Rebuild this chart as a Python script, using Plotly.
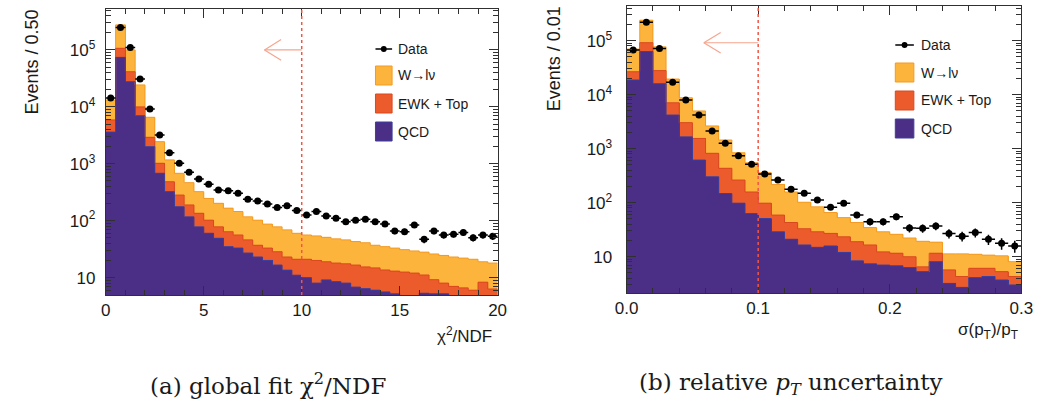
import numpy as np
import plotly.graph_objects as go

W, H = 1048, 400

# ---------------- panel (a): global fit chi2/NDF, 0.5 wide bins ----------------
chi2_lo, chi2_hi, chi2_bin = 0.0, 20.0, 0.5
chi2_qcd = [3600, 74000, 27700, 7000, 2000, 680, 324, 176, 117, 78,
            60, 49, 35, 33, 27, 23, 20, 16.6, 13.5, 11,
            10, 8, 9.1, 8.5, 8, 6.8, 6.4, 6, 5.6, 5.2,
            4.6, 4.7, 5.3, 5.2, 5.2, 4.8, 4.6, 4.5, 4.6, 4.5]
chi2_ewk_top = [2300, 33000, 13800, 3000, 920, 340, 160, 106, 72, 57,
                42, 29, 29, 23, 19, 14, 13, 11.9, 9.5, 10,
                11, 12, 9.9, 9.5, 9.5, 9.8, 9, 8.8, 8, 7.8,
                7.9, 7.3, 5.8, 4.0, 2.8, 2.2, 2.0, 1.5, 3.7, 1.8]
chi2_wlnu = [7300, 169000, 58500, 14300, 3640, 1430, 686, 398, 277, 189,
             144, 124, 102, 89, 71, 65, 54, 49.5, 46, 39,
             35, 34, 32, 30, 28.5, 26.4, 25.6, 22.2, 21.4, 20,
             18.5, 17.4, 16.9, 16.8, 16.5, 16, 15.4, 15, 10.7, 11.7]
chi2_data = [14300, 247000, 110000, 31000, 9200, 3200, 1570, 1020, 707, 540,
             436, 347, 337, 302, 238, 222, 196, 170, 183, 151,
             126, 145, 121, 110, 96, 102, 106, 96, 87, 66,
             64, 84, 47, 66, 56, 58, 62, 50, 56, 53]
chi2_cut = 10.0
chi2_xticks = [0, 5, 10, 15, 20]

# ---------------- panel (b): relative pT uncertainty, 0.01 wide bins ----------------
ptres_lo, ptres_hi, ptres_bin = 0.0, 0.3, 0.01
ptres_qcd = [18700, 63000, 16000, 4200, 1660, 616, 303, 148, 98, 63,
             51, 29, 21, 16.5, 14.9, 15.8, 12, 8.4, 7.4, 7.0,
             6.8, 6.3, 5.3, 8.1, 3.2, 2.7, 4.1, 4.3, 3.7, 3.0]
ptres_ewk_top = [8000, 29000, 12000, 2900, 1380, 934, 519, 286, 165, 95,
                 47, 30, 22, 16.5, 14.1, 11.2, 11.4, 10.6, 9.1, 5.3,
                 4.8, 3.7, 1.2, 3.5, 2.5, 1.6, 2.0, 1.8, 1.6, 1.3]
ptres_wlnu = [43300, 148000, 49000, 12400, 5760, 3450, 1818, 1016, 580, 392,
              262, 159, 115, 69, 55, 38.8, 29.6, 24, 18.2, 16.7,
              14.4, 12.2, 12.8, 7.0, 5.6, 7.0, 5.0, 4.6, 5.1, 3.8]
ptres_data = [67000, 219000, 72000, 17000, 7960, 4200, 2140, 1260, 742, 515,
              340, 263, 178, 149, 112, 82, 98, 59, 44.5, 44.5,
              55, 34, 33.6, 37, 27, 24, 28, 21, 17.7, 15.8]
ptres_cut = 0.1
ptres_xticks = [0.0, 0.1, 0.2, 0.3]
ptres_xticktext = ["0.0", "0.1", "0.2", "0.3"]

ytick_vals = [10, 100, 1000, 10000, 100000]
ytick_text = ["10", "10<sup>2</sup>", "10<sup>3</sup>", "10<sup>4</sup>", "10<sup>5</sup>"]

legend_labels = ["Data", "W\u2192l\u03bd", "EWK + Top", "QCD"]

# colours
COL_W, EDGE_W = "#FDB43C", "#F39A22"
COL_EWK, EDGE_EWK = "#EC5B2B", "#D9491F"
COL_QCD, EDGE_QCD = "#4B2E86", "#3B3F9E"
CUT_COLOR = "#F05545"
ARROW_COLOR = "#F6A58E"
INK = "#1a1a1a"
FRAME = "#303030"
SANS = "Liberation Sans, Arial, sans-serif"
SERIF = "DejaVu Serif, serif"


def px(x):
    return x / W


def py(y):
    return 1 - y / H


fig = go.Figure()


def add_panel(xa, ya, lo, hi, binw, qcd, ewk, wl, data):
    nb = len(qcd)
    edges = np.linspace(lo, hi, nb + 1)
    centers = 0.5 * (edges[:-1] + edges[1:])
    c_qcd = np.asarray(qcd, float)
    c_ewk = c_qcd + np.asarray(ewk, float)
    c_all = c_ewk + np.asarray(wl, float)
    for vals, fill in ((c_all, COL_W), (c_ewk, COL_EWK), (c_qcd, COL_QCD)):
        fig.add_trace(go.Bar(x=centers, y=vals, width=binw, xaxis=xa, yaxis=ya,
                             marker=dict(color=fill, line=dict(width=0)),
                             hoverinfo="skip", showlegend=False))
    for vals, edge in ((c_all, EDGE_W), (c_ewk, EDGE_EWK), (c_qcd, EDGE_QCD)):
        fig.add_trace(go.Scatter(x=edges, y=np.append(vals, vals[-1]), xaxis=xa, yaxis=ya,
                                 mode="lines", line=dict(color=edge, width=1, shape="hv"),
                                 hoverinfo="skip", showlegend=False))
    fig.add_trace(go.Scatter(x=centers, y=data, xaxis=xa, yaxis=ya, mode="markers",
                             marker=dict(symbol="circle", size=7, color="black"),
                             error_x=dict(type="constant", value=binw / 2, thickness=1.5,
                                          width=0, color="black"),
                             error_y=dict(type="sqrt", thickness=1.5, width=0, color="black"),
                             showlegend=False))


add_panel("x", "y", chi2_lo, chi2_hi, chi2_bin,
          chi2_qcd, chi2_ewk_top, chi2_wlnu, chi2_data)
add_panel("x2", "y2", ptres_lo, ptres_hi, ptres_bin,
          ptres_qcd, ptres_ewk_top, ptres_wlnu, ptres_data)


def log_minor_ticks(lo_dec, hi_dec):
    vals = []
    for d in range(lo_dec, hi_dec + 1):
        for m in range(2, 10):
            vals.append(m * 10.0 ** d)
    return vals


axis_common = dict(showline=True, linecolor=FRAME, linewidth=1, mirror="allticks",
                   ticks="inside", tickcolor=FRAME, ticklen=9, tickwidth=1,
                   showgrid=False, zeroline=False,
                   tickfont=dict(family=SANS, size=17, color=INK))

fig.update_layout(
    width=W, height=H, margin=dict(l=0, r=0, t=0, b=0),
    paper_bgcolor="white", plot_bgcolor="white",
    barmode="overlay", bargap=0, showlegend=False,
    font=dict(family=SANS, color=INK),
    xaxis=dict(axis_common, domain=[px(96), px(497)], range=[chi2_lo, chi2_hi],
               tickmode="array", tickvals=chi2_xticks, anchor="y",
               minor=dict(ticks="inside", ticklen=5, tickcolor=FRAME,
                          tickmode="linear", tick0=0, dtick=1, showgrid=False)),
    yaxis=dict(axis_common, type="log", domain=[py(295), py(9)], range=[0.694, 5.72],
               tickmode="array", tickvals=ytick_vals, ticktext=ytick_text, anchor="x",
               ticklabelstandoff=6,
               minor=dict(ticks="inside", ticklen=5, tickcolor=FRAME,
                          tickmode="array", tickvals=log_minor_ticks(0, 5), showgrid=False)),
    xaxis2=dict(axis_common, domain=[px(629), px(1033)], range=[ptres_lo, ptres_hi],
                tickmode="array", tickvals=ptres_xticks, ticktext=ptres_xticktext, anchor="y2",
                minor=dict(ticks="inside", ticklen=5, tickcolor=FRAME,
                           tickmode="linear", tick0=0, dtick=0.02, showgrid=False)),
    yaxis2=dict(axis_common, type="log", domain=[py(293), py(6)], range=[0.328, 5.643],
                tickmode="array", tickvals=ytick_vals, ticktext=ytick_text, anchor="x2",
                ticklabelstandoff=10,
                minor=dict(ticks="inside", ticklen=5, tickcolor=FRAME,
                           tickmode="array", tickvals=log_minor_ticks(0, 5), showgrid=False)),
)

shapes = []
annotations = []

# selection cut lines and arrows
for xa, cut, tip, back, yarr, dy in (("x", chi2_cut, 8.1, 8.95, 0.857, 0.036),
                                     ("x2", ptres_cut, 0.0587, 0.0715, 0.872, 0.036)):
    yref = xa.replace("x", "y") + " domain"
    shapes.append(dict(type="line", xref=xa, yref=yref, x0=cut, x1=cut, y0=0, y1=1,
                       line=dict(color=CUT_COLOR, width=1.5, dash="dot")))
    shapes.append(dict(type="line", xref=xa, yref=yref, x0=cut, x1=tip, y0=yarr, y1=yarr,
                       line=dict(color=ARROW_COLOR, width=1.2)))
    for s in (1, -1):
        shapes.append(dict(type="line", xref=xa, yref=yref, x0=tip, x1=back,
                           y0=yarr, y1=yarr + s * dy,
                           line=dict(color=ARROW_COLOR, width=1.2)))

# legends
for (lx0, lx1, ty, tx, rows) in ((372, 389, 49, 393, (66, 94, 122)),
                                 (904, 923, 45, 928, (63, 91, 119))):
    shapes.append(dict(type="line", xref="paper", yref="paper",
                       x0=px(lx0), x1=px(lx1), y0=py(ty), y1=py(ty),
                       line=dict(color="black", width=1.5)))
    cx = 0.5 * (lx0 + lx1)
    shapes.append(dict(type="circle", xref="paper", yref="paper",
                       x0=px(cx - 3), x1=px(cx + 3), y0=py(ty + 3), y1=py(ty - 3),
                       fillcolor="black", line=dict(color="black", width=0)))
    annotations.append(dict(xref="paper", yref="paper", x=px(tx), y=py(ty),
                            text=legend_labels[0], showarrow=False, xanchor="left",
                            yanchor="middle", font=dict(family=SANS, size=14, color=INK)))
    for label, top, fill, edge in zip(legend_labels[1:], rows,
                                      (COL_W, COL_EWK, COL_QCD),
                                      (EDGE_W, EDGE_EWK, EDGE_QCD)):
        shapes.append(dict(type="rect", xref="paper", yref="paper",
                           x0=px(lx0), x1=px(lx1), y0=py(top + 19), y1=py(top),
                           fillcolor=fill, line=dict(color=edge, width=1)))
        annotations.append(dict(xref="paper", yref="paper", x=px(tx), y=py(top + 9.5),
                                text=label, showarrow=False, xanchor="left",
                                yanchor="middle", font=dict(family=SANS, size=14, color=INK)))

# axis titles
annotations += [
    dict(xref="paper", yref="paper", x=px(20), y=py(62), text="Events / 0.50",
         textangle=-90, showarrow=False, xanchor="center", yanchor="middle",
         font=dict(family=SANS, size=18, color=INK)),
    dict(xref="paper", yref="paper", x=px(555), y=py(59), text="Events / 0.01",
         textangle=-90, showarrow=False, xanchor="center", yanchor="middle",
         font=dict(family=SANS, size=18, color=INK)),
    dict(xref="paper", yref="paper", x=px(493), y=py(335), text="\u03c7<sup>2</sup>/NDF",
         showarrow=False, xanchor="right", yanchor="middle",
         font=dict(family=SANS, size=17, color=INK)),
    dict(xref="paper", yref="paper", x=px(1032), y=py(331),
         text="\u03c3(p<sub>T</sub>)/p<sub>T</sub>",
         showarrow=False, xanchor="right", yanchor="middle",
         font=dict(family=SANS, size=17, color=INK)),
    # sub-figure captions
    dict(xref="paper", yref="paper", x=px(262), y=py(384),
         text="(a) global fit \u03c7<sup>2</sup>/NDF", showarrow=False,
         xanchor="center", yanchor="middle",
         font=dict(family=SERIF, size=23, color=INK)),
    dict(xref="paper", yref="paper", x=px(797), y=py(384),
         text="(b) relative <i>p<sub>T</sub></i> uncertainty", showarrow=False,
         xanchor="center", yanchor="middle",
         font=dict(family=SERIF, size=23, color=INK)),
]

fig.update_layout(shapes=shapes, annotations=annotations)
fig.write_html("out.html")
